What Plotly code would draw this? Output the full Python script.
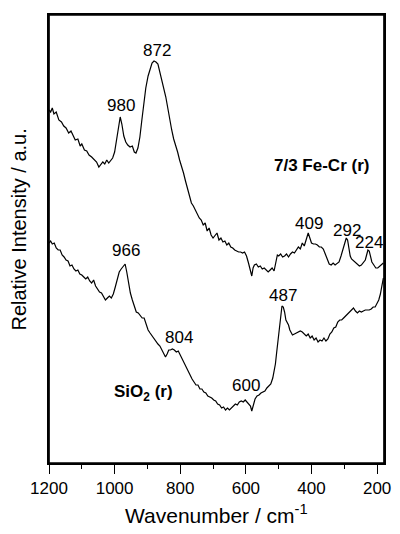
import plotly.graph_objects as go

# ---- data ----
fecr_wn = [1200,1195,1190,1185,1178,1170,1162,1155,1148,1140,1133,1127,1120,1112,1105,1100,1092,1085,1078,1070,
           1062,1055,1048,1042,1036,1030,1024,1018,1012,1006,1000,994,988,983,978,972,966,960,953,946,
           940,935,929,923,917,911,905,898,892,886,880,874,868,862,856,850,844,838,832,826,
           820,814,808,802,796,790,784,778,772,766,760,754,748,742,736,730,724,718,712,706,
           700,694,688,682,676,670,664,658,652,646,640,634,628,622,616,610,604,598,592,586,
           582,578,574,568,562,556,550,544,538,532,526,520,514,508,504,500,494,488,482,476,
           470,464,458,452,446,440,434,428,422,416,410,405,400,394,388,382,376,370,364,358,
           352,346,340,334,328,322,316,310,304,298,294,290,286,282,278,272,266,260,254,248,
           242,236,232,228,224,220,216,210,204,198,192,186,181]
fecr_int = [353,351,355,349,351,343,341,337,335,330,332,327,323,324,317,319,313,312,308,306,
            303,301,296,298,301,299,303,300,302,305,311,323,337,346,339,327,321,318,316,317,
            311,310,315,326,343,360,375,387,395,400,402,401,399,391,385,375,366,355,343,333,
            324,318,311,303,297,290,282,275,268,260,257,253,249,245,243,238,240,232,235,228,
            225,227,230,223,225,221,222,218,220,216,215,213,212,211,211,210,211,207,200,192,
            187,195,198,199,196,197,194,195,193,191,193,195,192,201,208,207,209,206,207,209,
            206,209,211,210,213,216,214,220,217,223,230,225,220,219,219,218,216,216,214,209,
            203,199,198,200,198,200,201,207,213,219,225,223,213,207,204,202,200,199,197,198,
            201,203,208,213,212,207,201,198,195,195,197,199,200]

sio2_wn = [1200,1195,1190,1184,1178,1172,1166,1160,1154,1148,1142,1136,1130,1124,1118,1112,1106,1100,1094,1088,
           1082,1076,1070,1064,1058,1052,1046,1040,1034,1028,1022,1016,1010,1004,998,992,986,980,974,968,
           963,958,952,946,940,934,928,922,916,910,904,898,892,886,880,874,868,862,856,850,
           845,840,835,830,824,818,812,806,800,794,788,782,776,770,764,758,752,746,740,734,
           728,722,716,710,704,698,692,686,680,674,668,662,656,650,644,638,632,626,620,614,
           608,602,596,590,586,582,578,572,566,560,554,548,542,536,530,524,518,514,510,506,
           502,498,494,490,486,482,478,474,470,466,462,458,452,446,440,434,428,422,416,410,
           404,398,392,386,380,374,368,362,356,350,344,338,332,326,320,314,308,302,296,290,
           284,278,272,266,260,254,248,242,236,230,224,218,212,206,200,195,190,185,181]
sio2_int = [220,222,219,220,215,213,213,208,206,203,202,197,198,194,192,193,189,188,186,184,
            186,182,180,183,177,174,171,170,167,163,165,167,165,169,176,185,191,194,197,199,
            191,181,170,163,156,151,150,148,145,145,138,133,130,127,125,122,119,117,113,108,
            106,109,113,113,114,113,111,112,108,103,99,96,91,88,84,81,78,78,74,74,
            71,70,67,66,65,63,62,59,58,55,56,53,55,53,55,58,59,58,61,62,
            61,63,61,59,57,52,57,64,67,68,70,71,72,75,77,79,85,91,99,111,
            123,138,150,157,156,151,143,140,138,133,131,128,129,130,131,132,131,129,127,129,
            125,127,123,125,121,123,122,125,122,124,129,131,135,136,141,143,143,145,147,148,
            151,152,155,152,150,152,151,152,153,153,153,154,156,156,160,163,169,177,185]

peak_labels = ["872", "980", "409", "292", "224", "966", "804", "600", "487"]
peak_label_y = [413, 358, 240, 233, 221, 213, 126, 78, 168]

series_names = ["7/3 Fe-Cr (r)", "SiO<sub>2</sub> (r)"]
series_label_x = [369, 911]
series_label_y = [298, 70]

x_range = [1200, 179]
y_range = [0, 448]
major_step = 200
minor_step = 100

FONT = "Liberation Sans, Arial, sans-serif"

fig = go.Figure()
fig.add_trace(go.Scatter(x=fecr_wn, y=fecr_int, mode="lines",
                         line=dict(color="black", width=1.2), name="Fe-Cr"))
fig.add_trace(go.Scatter(x=sio2_wn, y=sio2_int, mode="lines",
                         line=dict(color="black", width=1.2), name="SiO2"))
# plot frame, drawn along the axis range edges
fig.add_trace(go.Scatter(x=[x_range[0], x_range[1], x_range[1], x_range[0], x_range[0]],
                         y=[y_range[0], y_range[0], y_range[1], y_range[1], y_range[0]],
                         mode="lines", line=dict(color="black", width=1.7),
                         hoverinfo="skip", showlegend=False))
# carrier for the minor-tick axis (invisible)
fig.add_trace(go.Scatter(x=[x_range[0]], y=[y_range[0]], xaxis="x2", mode="markers",
                         marker=dict(opacity=0), hoverinfo="skip", showlegend=False))

for lab, yy in zip(peak_labels, peak_label_y):
    fig.add_annotation(x=int(lab), y=yy, text=lab, showarrow=False,
                       font=dict(family=FONT, size=17, color="black"),
                       xanchor="center", yanchor="middle")

for name, xx, yy in zip(series_names, series_label_x, series_label_y):
    fig.add_annotation(x=xx, y=yy, text="<b>" + name + "</b>", showarrow=False,
                       font=dict(family=FONT, size=17, color="black"),
                       xanchor="center", yanchor="middle")

fig.add_annotation(xref="paper", yref="paper", x=0.5, y=-0.114,
                   text="Wavenumber / cm<sup>-1</sup>", showarrow=False,
                   font=dict(family=FONT, size=21, color="black"),
                   xanchor="center", yanchor="middle")
fig.add_annotation(xref="paper", yref="paper", x=-0.088, y=0.52,
                   text="Relative Intensity / a.u.", showarrow=False, textangle=-90,
                   font=dict(family=FONT, size=20, color="black"),
                   xanchor="center", yanchor="middle")

fig.update_layout(
    width=400, height=534,
    margin=dict(l=49, r=9, t=15, b=71),
    paper_bgcolor="white", plot_bgcolor="white",
    showlegend=False,
    font=dict(family=FONT, size=17, color="black"),
    xaxis=dict(range=x_range, dtick=major_step,
               ticks="outside", ticklen=9, tickwidth=1.4, tickcolor="black",
               showline=True, linecolor="black", linewidth=1.6, mirror=True,
               showgrid=False, zeroline=False,
               tickfont=dict(family=FONT, size=17, color="black")),
    xaxis2=dict(range=x_range, dtick=minor_step, overlaying="x", side="bottom",
                ticks="outside", ticklen=5, tickwidth=1.4, tickcolor="black",
                showticklabels=False, showline=False, showgrid=False, zeroline=False),
    yaxis=dict(range=y_range, showticklabels=False, ticks="",
               showline=True, linecolor="black", linewidth=1.6, mirror=True,
               showgrid=False, zeroline=False),
)

fig.write_html("out.html")
